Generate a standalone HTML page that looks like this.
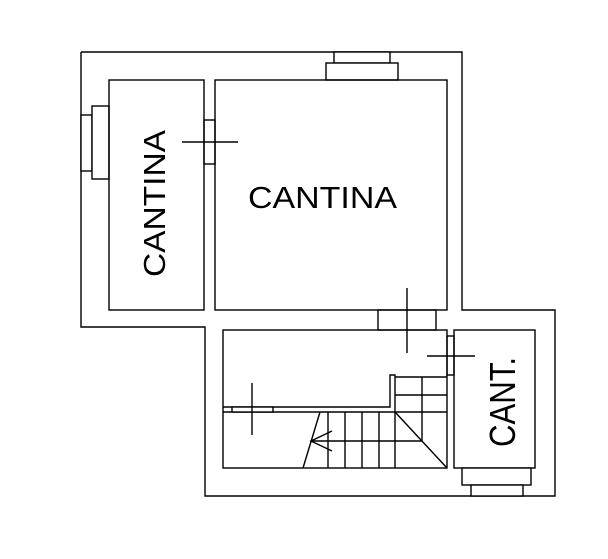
<!DOCTYPE html><html><head><style>body{margin:0;background:#fff}svg{display:block}</style></head><body>
<svg width="608" height="559" viewBox="0 0 608 559" xmlns="http://www.w3.org/2000/svg">
<rect width="608" height="559" fill="#fff"/>
<g fill="none" stroke="#000" stroke-width="1.4">
<polyline points="81,52 462,52 462,310 555,310 555,496 205,496 205,327 81,327 81,52"/>
<rect x="334" y="52" width="56" height="11" fill="#fff"/>
<rect x="326" y="63" width="72" height="17" fill="#fff"/>
<rect x="81" y="115" width="11" height="56" fill="#fff"/>
<rect x="92" y="106" width="17" height="73" fill="#fff"/>
<rect x="109" y="80" width="95" height="230"/>
<rect x="215" y="80" width="232" height="230"/>
<rect x="204" y="120" width="11" height="44"/>
<line x1="182" y1="142" x2="238" y2="142"/>
<rect x="378" y="310" width="58" height="20"/>
<line x1="407" y1="288" x2="407" y2="353"/>
<rect x="223" y="330" width="224" height="138"/>
<polyline points="223,407 390,407 390,375 395,375 395,468"/>
<line x1="395" y1="377" x2="447" y2="377"/>
<line x1="422" y1="377" x2="422" y2="441"/>
<line x1="395" y1="395" x2="447" y2="395"/>
<line x1="223" y1="412" x2="447" y2="412"/>
<line x1="328" y1="412" x2="328" y2="468"/>
<line x1="345" y1="412" x2="345" y2="468"/>
<line x1="362" y1="412" x2="362" y2="468"/>
<line x1="379" y1="412" x2="379" y2="468"/>
<line x1="320" y1="412" x2="303" y2="468"/>
<line x1="395" y1="412" x2="447" y2="468"/>
<line x1="311" y1="441" x2="422" y2="441"/>
<polyline points="332,431 311,441 332,451"/>
<rect x="232" y="407" width="41" height="5" fill="#fff"/>
<line x1="252" y1="383" x2="252" y2="435"/>
<rect x="454" y="330" width="81" height="138"/>
<rect x="447" y="336" width="7" height="39"/>
<line x1="427" y1="356" x2="475" y2="356"/>
<rect x="462" y="468" width="69" height="17" fill="#fff"/>
<rect x="471" y="485" width="52" height="11" fill="#fff"/>
</g>
<g font-family="Liberation Sans, sans-serif" fill="#000">
<text x="248" y="208" font-size="31" textLength="149" lengthAdjust="spacingAndGlyphs">CANTINA</text>
<text transform="translate(165,277) rotate(-90)" font-size="31" textLength="147" lengthAdjust="spacingAndGlyphs">CANTINA</text>
<text transform="translate(515,447) rotate(-90)" font-size="36" textLength="90" lengthAdjust="spacingAndGlyphs">CANT.</text>
</g>
</svg>
</body></html>
